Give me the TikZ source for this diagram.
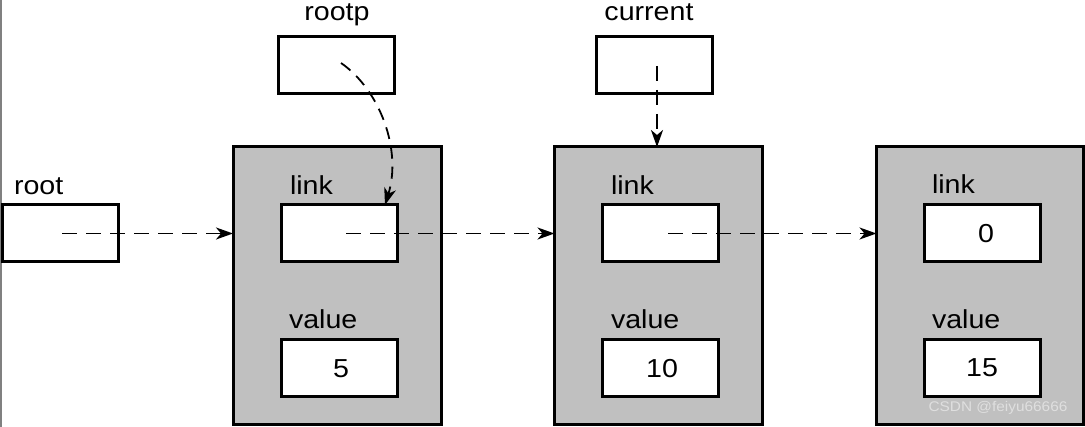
\documentclass[tikz,border=0pt]{standalone}
\usepackage{fontspec}
\setmainfont{Liberation Sans}[FakeStretch=1.1]
\usetikzlibrary{arrows.meta}
\definecolor{boxgray}{RGB}{192,192,192}
\begin{document}
\begin{tikzpicture}[x=1pt,y=-1pt,
  every node/.style={inner sep=0pt,outer sep=0pt},
  cell/.style={draw=black,line width=3pt,fill=white,minimum width=116pt,minimum height=57pt,
    font=\fontsize{26}{28}\selectfont},
  rec/.style={draw=black,line width=3pt,fill=boxgray,minimum width=208pt,minimum height=278pt},
  lbl/.style={anchor=base west,font=\fontsize{26}{28}\selectfont},
  tlbl/.style={anchor=base,font=\fontsize{26}{28}\selectfont},
  ptr/.style={line width=1.8pt,dash pattern=on 15pt off 9pt,-{Stealth[length=17pt,width=12pt,inset=5pt]}}]
\useasboundingbox (0,0) rectangle (1085,427);
\fill[white] (0,0) rectangle (1085,427);
\draw[gray,line width=1.5pt] (0.75,0) -- (0.75,427);
% records
\node[rec] (g1) at (337,286) {};
\node[rec] (g2) at (658.5,286) {};
\node[rec,minimum width=207pt] (g3) at (980,286) {};
% pointer variables
\node[cell] (root) at (60,233.5) {};
\node[cell] (rootp) at (336.5,65) {};
\node[cell] (cur) at (654.5,65) {};
\node[lbl] (rootl) at (14,195) {root};
\node[tlbl] (rootpl) at (337,21) {rootp};
\node[tlbl] (curl) at (649,21) {current};
% fields
\node[cell] (l1) at (339,233.5) {};
\node[cell] (v1) at (339,368.5) {\hspace{4pt}5};
\node[cell] (l2) at (660,233.5) {};
\node[cell] (v2) at (660,368.5) {\hspace{4pt}10};
\node[cell] (l3) at (982,233.5) {\hspace{8pt}0};
\node[cell] (v3) at (982,368) {15};
\node[lbl] (ll1) at (290,195) {link};
\node[lbl] (vl1) at (289,329) {value};
\node[lbl] (ll2) at (611,195) {link};
\node[lbl] (vl2) at (611,329) {value};
\node[lbl] (ll3) at (932,194) {link};
\node[lbl] (vl3) at (932,329) {value};
% connectors
\coordinate (rs) at (62,233.5);
\coordinate (l1s) at (346,233.5);
\coordinate (l2s) at (668,233.5);
\coordinate (cs) at (657,66);
\coordinate (rps) at (341,63);
\draw[ptr] (rs) -- (rs -| g1.west);
\draw[ptr] (l1s) -- (l1s -| g2.west);
\draw[ptr] (l2s) -- (l2s -| g3.west);
\draw[ptr] (cs) -- (cs |- g2.north);
\draw[ptr,dash pattern=on 12pt off 8pt] (rps) .. controls (380,90) and (402,150) .. (385,0 |- l1.north);
% watermark
\node[anchor=center,text=white!75!gray,font=\fontsize{14}{16}\selectfont] (wm) at (998,408) {CSDN @feiyu66666};
\end{tikzpicture}
\end{document}
